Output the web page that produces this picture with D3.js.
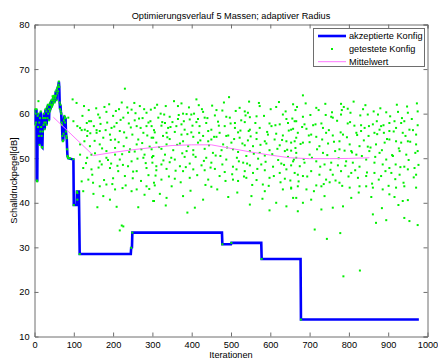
<!DOCTYPE html>
<html lang="de">
<head>
<meta charset="UTF-8">
<title>Optimierungsverlauf</title>
<script src="https://d3js.org/d3.v7.min.js"></script>
<style>
    body { margin: 0; background: #fff; }
    text { font-family: "Liberation Sans", Arial, sans-serif; font-size: 9.2px; fill: #000; }
</style>
</head>
<body>
<div id="fig"></div>
<script>
    // akzeptierte Konfig: iterations 0..86 (index = iteration)
    let akzFrueh = [60.5, 61, 57.5, 60, 58, 61, 45, 44.8, 59.5, 57, 60, 55, 58, 53, 59, 56, 60.5, 57, 55, 52.5,
        52.4, 56, 59, 57.5, 60, 58, 56.5, 59, 61, 58, 60.5, 57.5, 61.5, 59, 62, 60, 61, 58.5, 62, 60.5,
        62.5, 61, 62, 63, 61.5, 63, 62, 63.5, 62.5, 64, 63, 62.5, 64, 63.5, 65, 64, 63, 65.5, 64.5, 66,
        65, 66.5, 67.2, 66, 62.5, 61, 62, 60.5, 60, 58, 57.5, 55, 53.8, 54, 55.5, 58.5, 59.5, 59, 58, 59,
        56, 55, 54.5, 52, 50.5, 50.2, 50]
    // after that only steps
    let akzIter = [99, 100, 107, 108, 113, 115, 245, 246, 248, 249, 477, 478, 500, 501, 577, 578, 677, 678, 978]
    let akzVal = [49.7, 39.5, 39.5, 42.5, 42.5, 28.5, 28.5, 29.9, 30, 33.3, 33.3, 30.7, 30.7, 31.0, 31.0, 27.4, 27.4, 13.8, 13.8]

    // getestete Konfig [iteration, dB]
    let getestet = [
        [10,62.8],[46,63.9],[45,62.0],[97,63.2],[107,62.4],[126,61.7],[86,59.1],[99,58.3],[116,56.8],[133,57.9],
        [144,58.3],[162,59.8],[120,56.3],[135,56.1],[158,56.3],[90,50],[99,49.8],[100,39.5],[108,42.5],[115,28.5],
        [230,65.6],[254,62.4],[183,60.4],[166,59.1],[139,58.3],[109,57.2],[128,56.4],[151,57.2],[166,56.1],[196,56.8],
        [209,57.9],[226,59.1],[238,60.2],[247,60.9],[268,61.7],[285,60.2],[260,57.2],[285,57.2],[134,55.0],[158,55.7],
        [175,54.6],[192,55.3],[205,54.2],[217,56.1],[234,54.6],[249,55.3],[264,54.2],[277,55.7],[298,54.6],[116,53.1],
        [141,52.7],[166,53.1],[183,51.6],[205,52.3],[227,52.7],[243,52.0],[260,53.1],[272,52.0],[293,52.6],
        [178,61.5],[200,59.5],[215,61.0],[222,62.5],[255,58.5],[275,59.0],[290,58.0],[185,58.0],[240,57.8],[270,56.8],
        [150,42],[175,41.5],[200,45.5],[230,46.0],[250,45.5],[280,41.8],[290,46.2],[145,50.8],[195,48.8],[225,48.5],
        [255,51.5],[280,50.8],
        [116,50.8],[134,50.1],[154,51.1],[166,49.3],[183,50.1],[205,50.8],[217,49.7],[247,49.3],[277,50.1],[302,50.5],
        [124,47.8],[145,47.5],[171,48.6],[192,47.8],[213,47.1],[238,48.2],[260,47.1],[285,47.8],[310,48.2],
        [120,44.8],[137,45.2],[149,44.5],[166,43.7],[183,44.1],[205,43.0],[224,43.3],[247,42.6],[260,43.0],[285,43.7],
        [304,44.5],[109,40.7],[109,42.2],[124,42.6],[160,39.0],[192,40.7],[209,39.1],[264,39.0],[304,40.4],
        [222,34.9],[226,34.7],[217,33.8],
        [246,29.9],[249,33.3],[478,30.7],[501,31.0],[578,27.4],[678,13.8],
        [495,63.7],[412,63.2],[374,62.3],[306,61.3],[365,61.7],[418,61.9],[522,61.3],[658,62.1],[615,61.5],[573,61.7],
        [321,60.0],[330,59.8],[378,60.0],[387,59.9],[399,59.8],[406,60.0],[429,60.4],[463,60.8],[478,60.7],[459,59.6],
        [488,59.3],[535,60.5],[543,60.2],[565,59.4],[632,59.8],[664,60.8],[315,59.1],[344,59.3],[365,58.8],[395,58.7],
        [416,58.8],[433,59.1],[497,59.1],[526,58.5],[548,59.2],[641,58.8],[666,58.3],[295,58.3],[332,57.9],[351,58.1],
        [374,57.6],[412,58.1],[437,57.9],[467,58.2],[510,57.9],[535,58.1],[598,57.8],[624,57.6],[645,57.9],[298,57.2],
        [323,57.3],[340,56.8],[361,57.2],[382,56.4],[420,57.2],[450,56.4],[484,57.2],[510,56.8],[548,56.4],[573,56.8],
        [603,57.2],[658,56.6],[306,55.8],[336,55.7],[357,55.9],[374,55.3],[399,55.8],[419,55.7],[442,56.1],[471,55.7],
        [493,55.1],[518,55.8],[545,56.1],[565,55.7],[594,55.3],[615,55.5],[632,55.1],[670,55.7],[302,54.6],[327,55.0],
        [344,54.3],[378,53.8],[404,54.8],[429,55.0],[450,54.2],[463,54.8],[488,55.0],[522,54.6],[543,54.0],[565,54.3],
        [586,53.8],[611,54.2],[641,53.8],[666,54.6],[310,53.5],[336,53.1],[370,53.3],[391,52.7],[416,53.5],[442,53.8],
        [480,53.1],[501,53.5],[535,52.9],[556,52.7],[590,53.3],[624,52.9],[653,53.5],[298,52.0],[323,52.1],[353,51.8],
        [387,51.6],[404,51.8],[433,52.1],[454,51.2],[476,51.8],[505,52.0],[518,51.4],[548,51.6],[573,51.2],[598,51.8],
        [637,51.6],[666,51.2],[302,50.5],[332,50.8],[357,49.7],[382,50.3],[404,50.8],[437,50.1],[461,50.6],[488,49.7],
        [515,50.1],[539,50.5],[569,49.9],[586,50.6],[620,49.6],[645,50.3],[666,50.1],[300,49.0],[323,48.6],[344,49.1],
        [370,48.2],[395,48.8],[425,48.4],[450,49.0],[478,48.6],[505,48.1],[531,49.0],[548,48.4],[577,48.6],[607,48.1],
        [628,48.8],[653,48.4],[310,47.3],[336,47.6],[378,47.1],[404,47.5],[433,47.3],[459,47.6],[484,46.9],[514,47.5],
        [535,47.1],[556,46.7],[586,47.3],[624,46.7],[641,47.5],[670,46.3],[323,45.2],[357,45.4],[395,45.6],[442,45.2],
        [471,46.0],[505,45.2],[539,45.6],[565,45.1],[598,45.6],[637,45.4],[306,43.9],[349,43.7],[450,43.6],[518,44.9],
        [581,44.1],[653,43.4],[632,43.0],[586,42.6],[378,41.5],[336,41.1],[429,40.7],[493,41.3],[552,41.5],[666,41.1],
        [302,40.4],[334,39.4],[408,38.9],[548,39.6],[641,39.2],[615,40.0],
        [683,64.1],[717,61.3],[780,62.2],[797,61.1],[836,61.0],[782,60.8],[741,59.7],[755,59.3],[759,59.1],[780,59.8],
        [804,60.2],[848,59.8],[874,59.8],[895,60.3],[925,60.4],[950,60.2],[975,60.5],[662,58.3],[683,59.3],[687,57.6],
        [709,57.4],[730,57.8],[734,56.8],[797,57.8],[814,57.3],[831,57.4],[840,56.8],[861,57.6],[871,58.3],[882,57.2],
        [903,57.9],[916,58.3],[933,57.9],[941,58.3],[963,56.3],[975,57.4],[653,56.4],[692,56.6],[704,55.3],[717,54.8],
        [742,55.7],[759,55.1],[776,53.8],[785,55.3],[819,55.7],[831,56.1],[850,55.0],[865,55.7],[878,56.4],[889,55.7],
        [903,56.1],[920,56.8],[937,55.7],[954,56.4],[971,55.3],[662,53.8],[683,53.5],[700,53.6],[725,52.7],[747,53.3],
        [765,51.6],[789,51.7],[802,53.1],[827,52.7],[848,52.6],[869,53.1],[891,53.5],[903,54.2],[920,53.8],[933,53.5],
        [950,53.8],[971,53.1],[653,51.7],[700,50.8],[734,51.2],[776,52.0],[806,51.6],[819,50.8],[852,51.6],[878,51.2],
        [895,49.7],[912,50.5],[929,51.6],[946,50.8],[975,51.6],[658,49.3],[675,48.2],[687,49.0],[717,49.3],[738,48.6],
        [755,49.0],[772,48.4],[793,49.3],[810,49.0],[827,48.1],[844,49.7],[865,49.0],[886,48.6],[903,47.8],[919,48.6],
        [941,48.1],[967,47.8],[662,46.7],[683,46.0],[704,47.1],[725,46.3],[742,45.2],[759,46.3],[780,47.1],[806,46.7],
        [823,45.6],[844,46.0],[865,46.7],[882,46.0],[908,46.7],[929,46.3],[950,47.5],[971,46.3],[653,43.2],[670,43.7],
        [692,43.0],[717,43.9],[730,43.7],[751,44.6],[776,44.5],[802,43.4],[827,43.7],[844,43.7],[861,43.4],[886,43.0],
        [903,41.9],[920,43.4],[941,43.7],[971,43.4],[658,41.1],[683,40.0],[704,40.7],[738,41.5],[759,38.9],[785,39.2],
        [806,41.1],[857,41.3],[916,41.3],[937,40.4],[950,40.6],[670,38.1],[861,37.4],[869,35.5],[895,36.1],[941,36.6],
        [954,35.9],[975,35.0],[713,34.0],[778,33.2],[744,31.9],[786,23.5],[828,24.8],
        [122,59.5],[127,53.8],[131,48.9],[138,60.8],[142,55.6],[147,46.3],[153,53.9],[157,61.2],[163,47.9],[168,57.7],
        [172,52.2],[177,45.1],[181,56.3],[187,49.6],[190,62.1],[194,54.1],[198,44.2],[203,57.1],[207,60.6],[211,48.3],
        [214,53.6],[219,58.6],[223,50.9],[228,55.8],[232,43.9],[236,61.4],[241,51.4],[245,56.9],[251,47.0],[257,60.1],
        [262,49.9],[266,58.9],[271,44.9],[274,53.4],[279,61.0],[283,48.9],[287,55.1],[292,43.1],[296,60.9],[299,50.2],
        [304,56.3],[308,46.1],[312,62.0],[317,52.5],[319,42.0],[325,58.1],[328,49.5],[334,61.7],[338,54.7],[342,45.9],
        [346,57.0],[348,50.1],[355,62.8],[359,47.2],[363,53.0],[367,59.7],[372,44.6],[376,51.1],[380,58.3],[385,48.0],
        [389,55.4],[393,61.4],[397,42.7],[402,57.3],[410,50.3],[414,46.2],[422,54.0],[426,61.0],[431,49.4],[435,44.0],
        [440,59.0],[444,52.9],[448,47.9],[452,61.8],[457,54.8],[465,43.0],[469,57.3],[473,50.5],[482,62.5],[486,44.9],
        [490,52.4],[499,57.8],[503,46.4],[508,54.3],[512,60.6],[516,42.3],[520,49.3],[524,56.2],[529,53.3],[533,45.9],
        [537,59.6],[541,48.8],[546,62.7],[550,54.9],[554,44.0],[558,51.0],[562,57.9],[567,47.6],[571,62.4],[575,53.0],
        [580,40.9],[584,59.5],[588,49.2],[592,55.9],[596,43.8],[601,61.0],[605,50.9],[609,46.0],[613,57.4],[618,52.1],
        [622,62.6],[626,44.6],[630,54.1],[635,48.5],[639,60.5],[643,51.9],[647,56.2],[651,45.0],[656,58.9],[660,49.7],
        [664,52.3],[668,61.5],[672,44.8],[677,53.2],[681,57.0],[685,49.8],[690,62.3],[694,45.9],[698,55.1],[702,59.7],
        [706,50.1],[711,42.6],[715,57.6],[719,52.0],[723,60.8],[727,48.1],[732,54.2],[736,44.2],[740,62.2],[745,50.7],
        [749,56.3],[753,47.4],[757,60.3],[762,53.7],[766,45.0],[770,58.4],[774,50.0],[779,55.8],[783,43.8],[787,61.5],
        [791,48.3],[795,54.7],[799,45.9],[803,58.1],[808,51.3],[812,62.7],[816,47.3],[821,55.2],[825,42.3],[829,59.6],
        [833,50.5],[838,54.0],[842,61.9],[846,46.8],[851,57.2],[855,52.4],[859,44.3],[863,60.5],[867,50.3],[872,55.4],
        [876,45.2],[880,61.2],[884,51.8],[888,57.4],[893,47.1],[897,54.3],[901,43.8],[905,59.4],[910,50.7],[914,56.0],
        [918,45.3],[922,62.0],[927,52.2],[931,48.0],[935,59.0],[939,44.5],[944,55.0],[948,61.6],[952,49.6],[956,53.7],
        [960,58.8],[965,45.7],[969,51.2],[973,62.3],[977,48.5],[926,39.5],[884,38.8],[730,38.5],[598,38.3],[389,37.8]
    ]

    // Mittelwert
    let mittelIter = [48, 150, 200, 250, 300, 350, 400, 450, 500, 550, 600, 650, 700, 750, 800, 852]
    let mittelVal = [59.2, 50.6, 51.3, 51.9, 52.4, 52.85, 53.0, 53.0, 52.2, 51.4, 50.7, 50.1, 49.9, 49.9, 49.95, 50.1]

    let xTicks = [0, 100, 200, 300, 400, 500, 600, 700, 800, 900, 1000]
    let yTicks = [10, 20, 30, 40, 50, 60, 70, 80]
    let legendNames = ["akzeptierte Konfig", "getestete Konfig", "Mittelwert"]

    let W = 438, H = 362
    let mLeft = 34.5, mRight = 427.5, mTop = 24.5, mBottom = 336.5

    let svg = d3.select("#fig").append("svg").attr("width", W).attr("height", H)

    let x = d3.scaleLinear().domain([0, 1000]).range([mLeft, mRight])
    let y = d3.scaleLinear().domain([10, 80]).range([mBottom, mTop])

    svg.append("defs").append("clipPath").attr("id", "clip")
        .append("rect").attr("x", mLeft).attr("y", mTop).attr("width", mRight - mLeft).attr("height", mBottom - mTop)

    let axisCol = "#6e6e6e"
    // axes with inward ticks on all four sides
    let gx = svg.append("g").attr("transform", `translate(0,${mBottom})`)
        .call(d3.axisBottom(x).tickValues(xTicks).tickSize(-4).tickPadding(5).tickFormat(d3.format("d")))
    let gy = svg.append("g").attr("transform", `translate(${mLeft},0)`)
        .call(d3.axisLeft(y).tickValues(yTicks).tickSize(-4).tickPadding(5))
    let gt = svg.append("g").attr("transform", `translate(0,${mTop})`)
        .call(d3.axisTop(x).tickValues(xTicks).tickSize(-4).tickFormat(""))
    let gr = svg.append("g").attr("transform", `translate(${mRight},0)`)
        .call(d3.axisRight(y).tickValues(yTicks).tickSize(-4).tickFormat(""))
    for (let g of [gx, gy, gt, gr]) {
        g.select(".domain").attr("stroke", axisCol)
        g.selectAll(".tick line").attr("stroke", axisCol)
        g.selectAll("text").style("font-size", "9.2px").attr("fill", "#000")
            .style("font-family", "'Liberation Sans', Arial, sans-serif")
    }
    gx.selectAll(".tick").filter(d => d === 0 || d === 1000).select("line").remove()
    gy.selectAll(".tick").filter(d => d === 10 || d === 80).select("line").remove()

    let plot = svg.append("g").attr("clip-path", "url(#clip)")

    // akzeptierte Konfig
    let akzPts = akzFrueh.map((v, i) => [i, v]).concat(akzIter.map((it, i) => [it, akzVal[i]]))
    let line = d3.line().x(d => x(d[0])).y(d => y(d[1]))
    plot.append("path").datum(akzPts).attr("d", line)
        .attr("fill", "none").attr("stroke", "#0000ff").attr("stroke-width", 2.6)
        .attr("stroke-linejoin", "miter")

    // getestete Konfig (accepted early points were tested as well)
    let testPts = akzFrueh.map((v, i) => [i, v]).concat(getestet)
    plot.selectAll(".dot").data(testPts).enter().append("rect")
        .attr("x", d => x(d[0]) - 1).attr("y", d => y(d[1]) - 1)
        .attr("width", 2).attr("height", 2).attr("fill", "#00f000")

    // Mittelwert
    plot.append("path").datum(mittelIter.map((it, i) => [it, mittelVal[i]])).attr("d", line)
        .attr("fill", "none").attr("stroke", "#ff77ff").attr("stroke-width", 1)

    // titles
    svg.append("text").attr("x", (mLeft + mRight) / 2).attr("y", 19).attr("text-anchor", "middle")
        .text("Optimierungsverlauf 5 Massen; adaptiver Radius")
    svg.append("text").attr("x", (mLeft + mRight) / 2).attr("y", 358).attr("text-anchor", "middle")
        .text("Iterationen")
    svg.append("text").attr("transform", `translate(16.5,${(mTop + mBottom) / 2}) rotate(-90)`)
        .attr("text-anchor", "middle").text("Schalldruckpegel[dB]")

    // legend
    let lg = svg.append("g")
    lg.append("rect").attr("x", 313.5).attr("y", 28.5).attr("width", 111).attr("height", 38)
        .attr("fill", "#fff").attr("stroke", axisCol)
    let rows = [36, 49, 61.7]
    lg.append("line").attr("x1", 318).attr("x2", 346).attr("y1", rows[0]).attr("y2", rows[0])
        .attr("stroke", "#0000ff").attr("stroke-width", 2.6)
    lg.append("rect").attr("x", 331).attr("y", rows[1] - 1).attr("width", 2).attr("height", 2).attr("fill", "#00f000")
    lg.append("line").attr("x1", 318).attr("x2", 346).attr("y1", rows[2]).attr("y2", rows[2])
        .attr("stroke", "#ff77ff").attr("stroke-width", 1)
    legendNames.forEach((n, i) => {
        lg.append("text").attr("x", 349).attr("y", rows[i] + 3.3).text(n)
    })
</script>
</body>
</html>
